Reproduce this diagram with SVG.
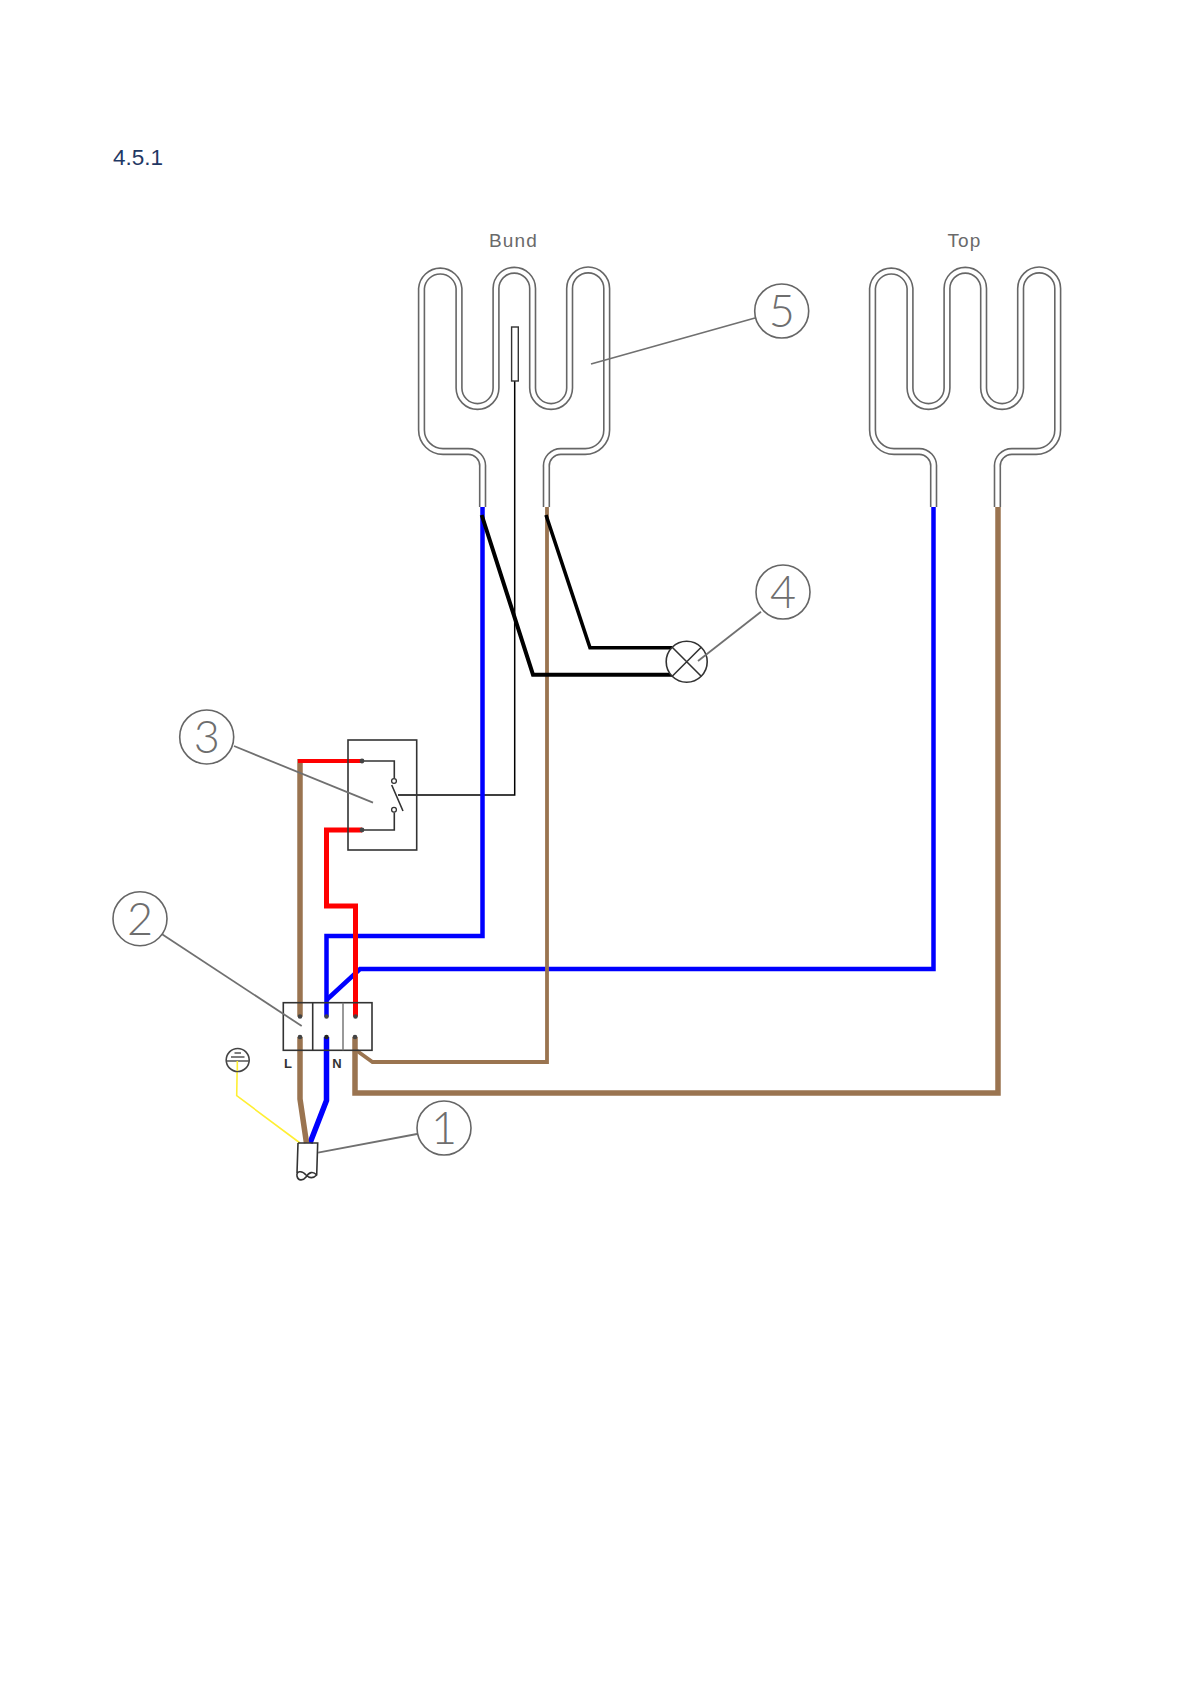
<svg xmlns="http://www.w3.org/2000/svg" xmlns:xlink="http://www.w3.org/1999/xlink" width="1192" height="1685" viewBox="0 0 1192 1685">
<style>
text{font-family:"Liberation Sans",Arial,sans-serif}
.num{font-family:"Lato","Liberation Sans",sans-serif;font-weight:300;font-size:45px;fill:#6e6e6e;text-anchor:middle}
.cap{font-size:19px;fill:#6a6a6a;text-anchor:middle;letter-spacing:1.2px}
.ball{fill:#fff;stroke:#666;stroke-width:1.6}
.lead{fill:none;stroke:#707070;stroke-width:1.8}
.dk{fill:none;stroke:#333;stroke-width:1.6}
.w{fill:none;stroke-linejoin:miter;stroke-linecap:butt}
.outer{fill:none;stroke:#666;stroke-width:7.4}
.inner{fill:none;stroke:#fff;stroke-width:4.2}
.dot{fill:#444}
</style>
<defs>
<path id="tube" d="M482.6 507V467A14.5 14.5 0 0 0 468 451.5H443A21.5 21.5 0 0 1 421.5 430V288.5A18.8 18.8 0 0 1 459 288.5V388A18.5 18.5 0 0 0 496 388V288.5A18.3 18.3 0 0 1 532.6 288.5V388A18.5 18.5 0 0 0 569.6 388V288.5A18.5 18.5 0 0 1 606.7 288.5V430A21.5 21.5 0 0 1 585 451.5H561A14.5 14.5 0 0 0 546.4 467V507"/>
</defs>
<rect width="1192" height="1685" fill="#fff"/>
<text id="heading" x="113" y="165" font-size="22.5" fill="#1f3864">4.5.1</text>

<g id="heater-bund">
<use xlink:href="#tube" href="#tube" class="outer"/><use xlink:href="#tube" href="#tube" class="inner"/>
<text class="cap" x="513.5" y="247">Bund</text>
</g>
<g id="heater-top">
<use xlink:href="#tube" href="#tube" class="outer" transform="translate(451 0)"/><use xlink:href="#tube" href="#tube" class="inner" transform="translate(451 0)"/>
<text class="cap" x="964.5" y="247">Top</text>
</g>

<g id="connectors">
<path class="w" stroke="#000" stroke-width="1.5" d="M514.7 381V795H398"/>
<path class="w" stroke="#00f" stroke-width="4.5" d="M482.5 507V936H326.5V1016.5"/>
<path class="w" stroke="#00f" stroke-width="4.5" d="M326.5 1000L360 969H933.5V507"/>
<path class="w" stroke="#00f" stroke-width="5.5" d="M326.5 1037V1100.5L310 1143"/>
<path class="w" stroke="#9a7450" stroke-width="3.8" d="M547 507V1062H372.5L356.5 1050.5"/>
<path class="w" stroke="#9a7450" stroke-width="5.5" d="M300 759V1016.5"/>
<path class="w" stroke="#9a7450" stroke-width="5.5" d="M300 1037V1099L306.5 1143"/>
<path class="w" stroke="#9a7450" stroke-width="5.5" d="M355 1037V1093H998V507"/>
<path class="w" stroke="#f00" stroke-width="4.2" d="M298 761H362"/>
<path class="w" stroke="#f00" stroke-width="5" d="M362 830H326.5V906H355.5V1016.5"/>
<path class="w" stroke="#000" stroke-width="4" d="M481.7 515L533 674.7H672"/>
<path class="w" stroke="#000" stroke-width="3.6" d="M546 515L590 647.7H672"/>
<path class="w" stroke="#ffef33" stroke-width="1.6" d="M237.3 1061L236.7 1095.7L300 1143"/>
</g>

<g id="sensor"><rect x="511.6" y="327" width="6.7" height="54" fill="#fff" stroke="#333" stroke-width="1.4"/></g>

<g id="switch">
<rect class="dk" x="348" y="740" width="68.7" height="110"/>
<path class="dk" d="M362 761H394.3V778M394.3 812.5V830H362M391.7 785L403 811"/>
<circle cx="394" cy="781" r="2.4" fill="#fff" stroke="#333" stroke-width="1.3"/>
<circle cx="394" cy="809.7" r="2.4" fill="#fff" stroke="#333" stroke-width="1.3"/>
<circle class="dot" cx="362" cy="761" r="2.4"/><circle class="dot" cx="362" cy="830" r="2.4"/>
</g>

<g id="terminal">
<rect class="dk" x="283.3" y="1002.7" width="88.7" height="47.6"/>
<path class="dk" d="M312.7 1002.7V1050.3"/><path d="M343 1002.7V1050.3" fill="none" stroke="#777" stroke-width="1.5"/>
<circle class="dot" cx="300" cy="1016.5" r="2.3"/><circle class="dot" cx="326.5" cy="1016.5" r="2.3"/><circle class="dot" cx="355.5" cy="1016.5" r="2.3"/>
<circle class="dot" cx="300" cy="1037" r="2.3"/><circle cx="326.5" cy="1037" r="2.3" fill="#222"/><circle class="dot" cx="355" cy="1037" r="2.3"/>
<text x="288" y="1068" font-size="13" font-weight="bold" fill="#333" text-anchor="middle">L</text>
<text x="337" y="1068" font-size="13" font-weight="bold" fill="#333" text-anchor="middle">N</text>
</g>

<g id="ground">
<circle cx="237.7" cy="1060" r="11.5" fill="#fff" stroke="#444" stroke-width="1.6"/>
<path d="M226.5 1061H249M231 1057H244.5M234.5 1053H241" fill="none" stroke="#555" stroke-width="1.4"/>
<path d="M237.3 1061V1071" stroke="#ffef33" stroke-width="1.6" fill="none"/>
</g>

<g id="cable">
<path class="dk" d="M298 1143H317.7L316.7 1175C313 1179 309 1178 306 1175C302 1170 296 1171 297 1176C298 1181 303 1181 306 1177C309 1172 313 1171 316.7 1175M298 1143L297 1173"/>
</g>

<g id="lamp">
<circle cx="686.7" cy="661.7" r="20.5" fill="#fff" stroke="#333" stroke-width="1.6"/>
<path class="dk" d="M672.2 647.2L701.2 676.2M701.2 647.2L672.2 676.2"/>
</g>

<g id="callout-1"><path class="lead" d="M417 1134L318 1152.7"/><circle class="ball" cx="444" cy="1128" r="27"/><text class="num" x="444" y="1144">1</text></g>
<g id="callout-2"><path class="lead" d="M161.7 934L301.7 1026"/><circle class="ball" cx="140" cy="918.7" r="27"/><text class="num" x="140" y="935">2</text></g>
<g id="callout-3"><path class="lead" d="M234 746L373 802.7"/><circle class="ball" cx="206.7" cy="737" r="27"/><text class="num" x="206.7" y="753">3</text></g>
<g id="callout-4"><path class="lead" d="M761 611.7L698 661"/><circle class="ball" cx="783" cy="592" r="27"/><text class="num" x="783" y="608">4</text></g>
<g id="callout-5"><path class="lead" d="M755 318L591 364"/><circle class="ball" cx="781.7" cy="311" r="27"/><text class="num" x="781.7" y="327">5</text></g>
</svg>
